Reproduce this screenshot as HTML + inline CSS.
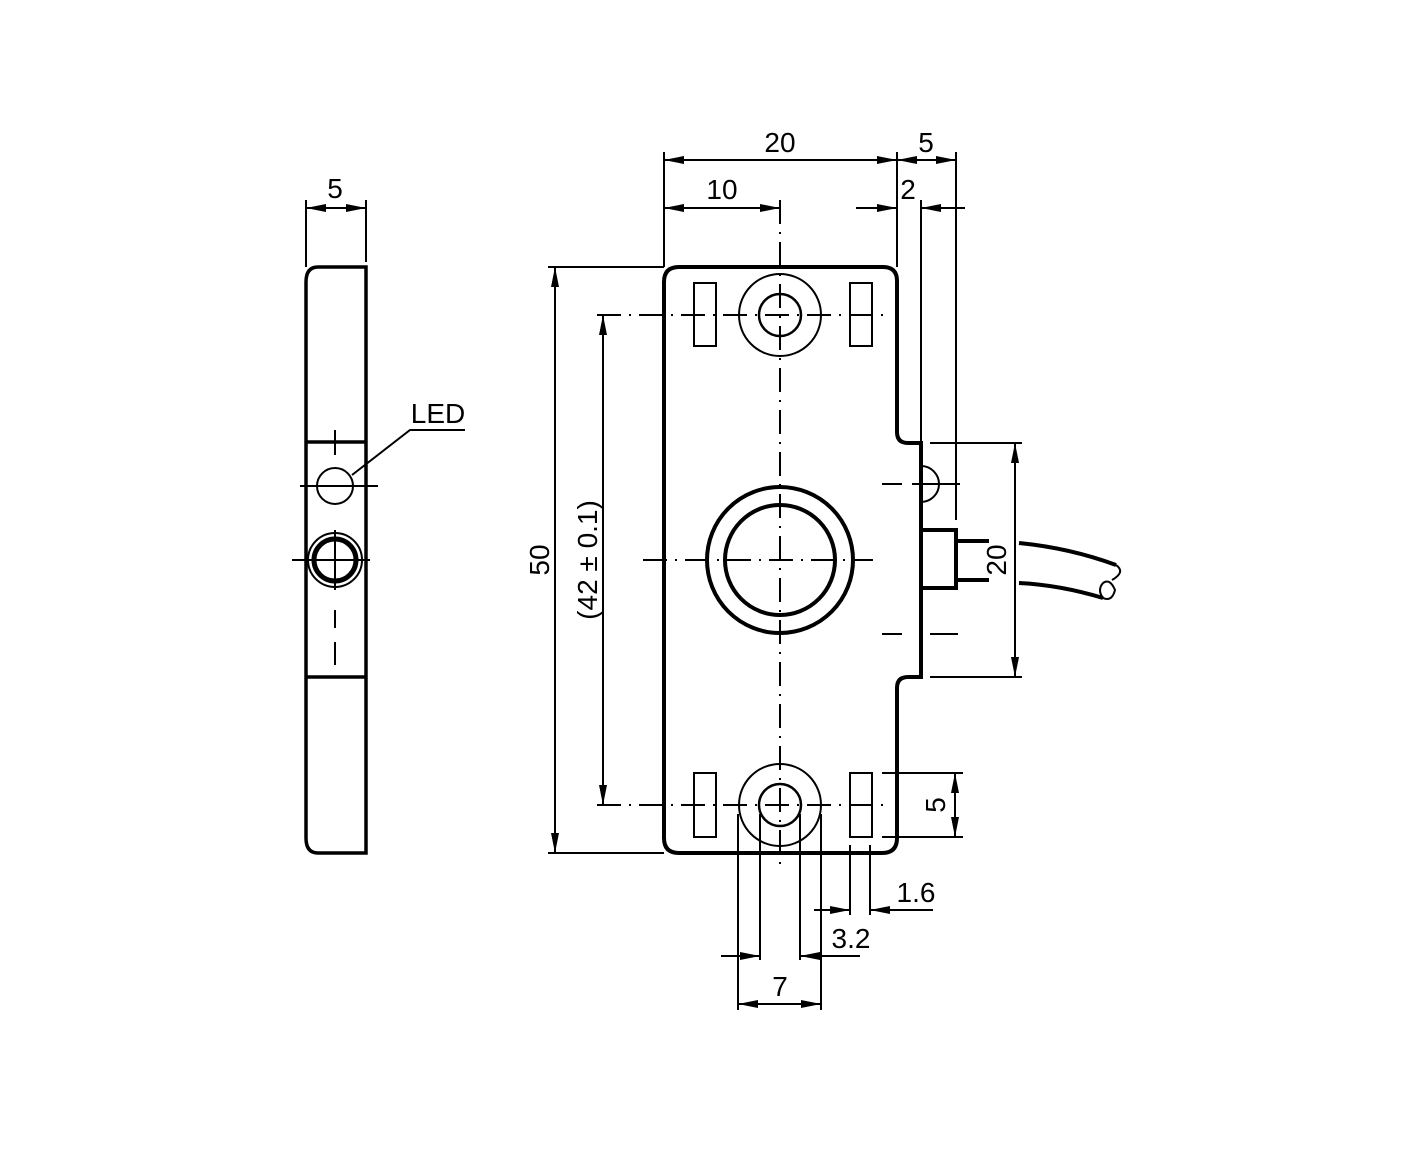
<!DOCTYPE html>
<html><head><style>body{margin:0;background:#fff}svg{display:block}</style></head><body>
<svg width="1417" height="1169" viewBox="0 0 1417 1169" xmlns="http://www.w3.org/2000/svg">
<defs>
<marker id="a" viewBox="0 0 10 4" refX="10" refY="2" markerWidth="26" markerHeight="8" markerUnits="userSpaceOnUse" orient="auto"><path d="M0,0L10,2L0,4z" fill="#000"/></marker>
</defs>
<g font-family="Liberation Sans, sans-serif" font-size="28" fill="#000">
<text x="335" y="198" text-anchor="middle">5</text>
<text x="438" y="423" text-anchor="middle">LED</text>
<text x="780" y="152" text-anchor="middle">20</text>
<text x="926" y="152" text-anchor="middle">5</text>
<text x="722" y="199" text-anchor="middle">10</text>
<text x="908" y="199" text-anchor="middle">2</text>
<text transform="translate(549,560) rotate(-90)" text-anchor="middle">50</text>
<text transform="translate(597,560) rotate(-90)" text-anchor="middle">(42 ± 0.1)</text>
<text transform="translate(1006,560) rotate(-90)" text-anchor="middle">20</text>
<text transform="translate(945,805) rotate(-90)" text-anchor="middle">5</text>
<text x="916" y="902" text-anchor="middle">1.6</text>
<text x="851" y="948" text-anchor="middle">3.2</text>
<text x="780" y="996" text-anchor="middle">7</text>
</g>
<g fill="none" stroke="#000">
<!-- side view -->
<path d="M366,267 H318 Q306,267 306,282 V838 Q306,853 318,853 H366 Z" stroke-width="3.5"/>
<path d="M306,442H366M306,677H366" stroke-width="3.5"/>
<circle cx="335" cy="486" r="18" stroke-width="2"/>
<circle cx="335" cy="560" r="21" stroke-width="5"/>
<circle cx="335" cy="560" r="27" stroke-width="2"/>
<path d="M335,430V455M300,486H378M292,560H370M335,530V590M335,610V628M335,642V665" stroke-width="2"/>
<path d="M306,200V267M366,200V262" stroke-width="2"/>
<g stroke-width="2" marker-end="url(#a)">
<line x1="336" y1="208" x2="306" y2="208"/><line x1="336" y1="208" x2="366" y2="208"/>
<line x1="780" y1="160" x2="664" y2="160"/><line x1="780" y1="160" x2="897" y2="160"/>
<line x1="926" y1="160" x2="897" y2="160"/><line x1="926" y1="160" x2="956" y2="160"/>
<line x1="722" y1="208" x2="664" y2="208"/><line x1="722" y1="208" x2="780" y2="208"/>
<line x1="856" y1="208" x2="897" y2="208"/><line x1="965" y1="208" x2="921" y2="208"/>
<line x1="555" y1="560" x2="555" y2="267"/><line x1="555" y1="560" x2="555" y2="853"/>
<line x1="603" y1="560" x2="603" y2="315"/><line x1="603" y1="560" x2="603" y2="805"/>
<line x1="1015" y1="560" x2="1015" y2="443"/><line x1="1015" y1="560" x2="1015" y2="677"/>
<line x1="955" y1="805" x2="955" y2="773"/><line x1="955" y1="805" x2="955" y2="837"/>
<line x1="814" y1="910" x2="850" y2="910"/><line x1="933" y1="910" x2="870" y2="910"/>
<line x1="721" y1="956" x2="760" y2="956"/><line x1="860" y1="956" x2="800" y2="956"/>
<line x1="780" y1="1004" x2="738" y2="1004"/><line x1="780" y1="1004" x2="821" y2="1004"/>
</g>
<path d="M465,430H410L352,475" stroke-width="2"/>
<!-- main body -->
<path d="M679,267 H883 Q897,267 897,281 V432 Q897,443 908,443 H921 V677 H908 Q897,677 897,688 V838 Q897,853 882,853 H679 Q664,853 664,838 V282 Q664,267 679,267 Z" stroke-width="4"/>
<rect x="921" y="530" width="35" height="58" stroke-width="4"/>
<path d="M956,541H989M956,580H989" stroke-width="4"/>
<path d="M921,466 A18,18 0 0 1 921,502" stroke-width="2"/>
<!-- cable -->
<path d="M1019,543 Q1070,548 1116,565 M1019,583 Q1060,585 1103,598" stroke-width="4"/>
<path d="M1116,565 Q1126,572 1112,580 M1103,583 Q1110,578 1115,590 Q1112,602 1103,598 Q1097,590 1103,583" stroke-width="2"/>
<!-- holes -->
<circle cx="780" cy="315" r="41" stroke-width="2"/>
<circle cx="780" cy="315" r="21" stroke-width="2.5"/>
<circle cx="780" cy="805" r="41" stroke-width="2"/>
<circle cx="780" cy="805" r="21" stroke-width="2.5"/>
<rect x="694" y="283" width="22" height="63" stroke-width="2"/>
<rect x="850" y="283" width="22" height="63" stroke-width="2"/>
<rect x="694" y="773" width="22" height="64" stroke-width="2"/>
<rect x="850" y="773" width="22" height="64" stroke-width="2"/>
<circle cx="780" cy="560" r="73" stroke-width="4"/>
<circle cx="780" cy="560" r="55" stroke-width="4"/>
<!-- center lines -->
<path d="M780,200V870" stroke-width="2" stroke-dasharray="24,8,2,8"/>
<path d="M597,315H890M597,805H890" stroke-width="2" stroke-dasharray="24,8,2,8"/>
<path d="M643,560H873" stroke-width="2" stroke-dasharray="24,8,2,8"/>
<path d="M882,484H902M912,484H960M882,634H902M930,634H958" stroke-width="2"/>
<!-- extension lines -->
<path d="M664,152V267M897,152V267M956,152V520M921,200V443" stroke-width="2"/>
<path d="M548,267H664M548,853H664" stroke-width="2"/>
<path d="M930,443H1022M930,677H1022" stroke-width="2"/>
<path d="M882,773H963M882,837H963" stroke-width="2"/>
<path d="M738,814V1010M821,814V1010M760,814V960M800,814V960M850,845V915M870,845V915" stroke-width="2"/>
</g>
</svg>
</body></html>
